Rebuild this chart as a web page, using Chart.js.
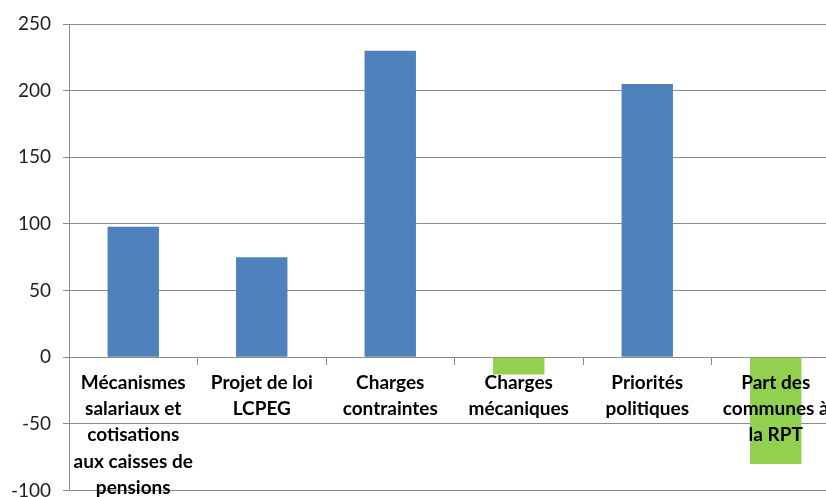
<!DOCTYPE html>
<html>
<script src="https://cdn.jsdelivr.net/npm/chart.js@4/dist/chart.umd.min.js"></script>
<style>
  body { margin: 0; overflow: hidden; background: #fff; }
</style>
<body>
<canvas id="myChart" width="840" height="514"></canvas>

<script>
// categories, one line per entry
var labels = [
  ["Mécanismes", "salariaux et", "cotisations", "aux caisses de", "pensions"],
  ["Projet de loi", "LCPEG"],
  ["Charges", "contraintes"],
  ["Charges", "mécaniques"],
  ["Priorités", "politiques"],
  ["Part des", "communes à", "la RPT"]
];
var values = [98, 75, 230, -13, 205, -80];
var barColors = ["#4F81BD", "#4F81BD", "#4F81BD", "#92D050", "#4F81BD", "#92D050"];
var yTicks = [-100, -50, 0, 50, 100, 150, 200, 250];

new Chart("myChart", {
  type: "bar",
  data: {
    labels: labels,
    datasets: [{
      data: values,
      backgroundColor: barColors,
      borderWidth: 0,
      categoryPercentage: 1,
      barPercentage: 0.4
    }]
  },
  options: {
    responsive: false,
    animation: false,
    layout: { padding: { top: 24, right: 0, bottom: 11, left: 0 } },
    plugins: { legend: { display: false }, tooltip: { enabled: false } },
    scales: {
      x: {
        position: { y: 0 },
        grid: { offset: true, drawOnChartArea: false, drawTicks: true, tickLength: 7, color: "#8c8c8c" },
        border: { display: true, color: "#8c8c8c" },
        ticks: {
          z: 1,
          autoSkip: false,
          maxRotation: 0,
          color: "#000",
          padding: 6,
          font: { family: "Lato", size: 19, weight: "bold", lineHeight: 1.37 }
        }
      },
      y: {
        min: -100,
        max: 250,
        afterFit: function (s) { s.width = 69; },
        afterBuildTicks: function (s) { s.ticks = yTicks.map(function (v) { return { value: v }; }); },
        grid: { color: "#8c8c8c", tickLength: 6 },
        border: { display: true, color: "#8c8c8c" },
        ticks: {
          color: "#222",
          padding: 12,
          font: { family: "Lato", size: 19 }
        }
      }
    }
  }
});
</script>
</body>
</html>
